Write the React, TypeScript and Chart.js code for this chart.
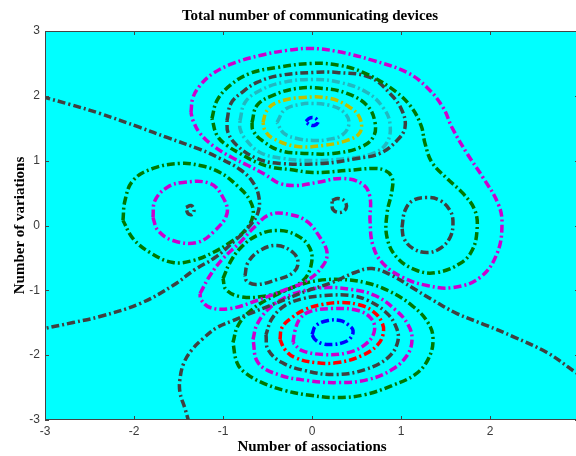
import React, { useEffect, useRef } from 'react';
import { Chart, registerables } from 'chart.js';

Chart.register(...registerables);

// ---------- text ----------
const TITLE = 'Total number of communicating devices';
const X_LABEL = 'Number of associations';
const Y_LABEL = 'Number of variations';

// ---------- axes ----------
const X_MIN = -3;
const X_MAX = 3;
const Y_MIN = -3;
const Y_MAX = 3;
const TICK_STEP = 1;
const HIDDEN_X_TICKS = [3];

type Pt = [number, number];

// ---------- contour lines, data coordinates [x, y] ----------
const zeroWest: Pt[] = [[-3.03, 1.985], [-2.719, 1.867], [-2.382, 1.728], [-1.933, 1.512], [-1.629, 1.358], [-1.258, 1.173], [-1.034, 1.034], [-0.809, 0.864], [-0.663, 0.664], [-0.596, 0.432], [-0.607, 0.201], [-0.697, 0.0], [-0.865, -0.231], [-1.09, -0.494], [-1.315, -0.679], [-1.562, -0.926], [-1.933, -1.204], [-2.382, -1.404], [-2.685, -1.497], [-3.03, -1.595]];

const zeroSouth: Pt[] = [[-1.382, -3.04], [-1.427, -2.824], [-1.483, -2.577], [-1.483, -2.361], [-1.438, -2.114], [-1.348, -1.914], [-1.225, -1.744], [-1.067, -1.574], [-0.888, -1.466], [-0.753, -1.389], [-0.528, -1.265], [-0.303, -1.142], [-0.045, -1.003], [0.225, -0.88], [0.483, -0.725], [0.674, -0.664], [0.899, -0.772], [1.124, -0.957], [1.348, -1.142], [1.629, -1.358], [1.966, -1.543], [2.258, -1.713], [2.64, -1.96], [2.966, -2.269], [3.034, -2.33]];

const topCore: Pt[] = [[-0.067, 1.605], [-0.034, 1.651], [0.011, 1.667], [0.056, 1.636], [0.067, 1.59], [0.022, 1.543], [-0.034, 1.559]];
const topRing7: Pt[] = [[-0.393, 1.59], [-0.303, 1.79], [-0.135, 1.867], [0.011, 1.883], [0.202, 1.852], [0.348, 1.759], [0.416, 1.59], [0.348, 1.404], [0.18, 1.327], [0.011, 1.312], [-0.169, 1.343], [-0.315, 1.42]];
const topRing6: Pt[] = [[-0.551, 1.59], [-0.506, 1.775], [-0.393, 1.898], [-0.101, 1.975], [0.202, 1.96], [0.427, 1.821], [0.539, 1.651], [0.539, 1.435], [0.393, 1.312], [0.124, 1.235], [-0.169, 1.219], [-0.438, 1.343], [-0.528, 1.466]];
const topRing5: Pt[] = [[-0.674, 1.59], [-0.618, 1.852], [-0.438, 2.006], [-0.169, 2.114], [0.124, 2.114], [0.393, 2.037], [0.618, 1.852], [0.708, 1.59], [0.685, 1.358], [0.539, 1.204], [0.236, 1.111], [-0.056, 1.111], [-0.36, 1.157], [-0.562, 1.312], [-0.663, 1.466]];
const topRing4: Pt[] = [[-0.809, 1.62], [-0.753, 1.898], [-0.584, 2.083], [-0.326, 2.207], [0.011, 2.253], [0.315, 2.207], [0.618, 2.052], [0.798, 1.821], [0.876, 1.574], [0.843, 1.281], [0.685, 1.111], [0.393, 1.034], [0.011, 1.003], [-0.326, 1.034], [-0.584, 1.127], [-0.753, 1.343], [-0.809, 1.497]];
const topRing3: Pt[] = [[-0.955, 1.62], [-0.91, 1.883], [-0.787, 2.052], [-0.618, 2.207], [-0.36, 2.315], [0.011, 2.361], [0.281, 2.361], [0.652, 2.284], [0.876, 2.037], [1.011, 1.775], [1.045, 1.512], [0.955, 1.312], [0.764, 1.111], [0.506, 1.034], [0.124, 0.957], [-0.36, 0.957], [-0.618, 1.034], [-0.843, 1.235], [-0.944, 1.435]];
const topRing2: Pt[] = [[-1.124, 1.651], [-1.067, 1.929], [-0.921, 2.16], [-0.697, 2.346], [-0.393, 2.438], [0.011, 2.5], [0.315, 2.469], [0.573, 2.361], [0.876, 2.13], [1.101, 1.852], [1.225, 1.543], [1.27, 1.265], [1.348, 0.972], [1.517, 0.725], [1.697, 0.494], [1.831, 0.231], [1.854, -0.077], [1.798, -0.386], [1.663, -0.586], [1.404, -0.725], [1.18, -0.694], [0.955, -0.494], [0.843, -0.185], [0.843, 0.185], [0.899, 0.54], [0.899, 0.741], [0.82, 0.849], [0.685, 0.88], [0.393, 0.849], [0.011, 0.818], [-0.247, 0.864], [-0.438, 0.895], [-0.618, 0.972], [-0.809, 1.111], [-0.955, 1.235], [-1.067, 1.389]];
const topRing1: Pt[] = [[-1.36, 1.744], [-1.337, 1.975], [-1.258, 2.16], [-1.112, 2.346], [-0.888, 2.5], [-0.584, 2.623], [-0.281, 2.701], [-0.022, 2.731], [0.281, 2.685], [0.685, 2.546], [1.067, 2.361], [1.292, 2.13], [1.472, 1.821], [1.573, 1.512], [1.742, 1.111], [1.921, 0.741], [2.09, 0.34], [2.135, 0.031], [2.079, -0.432], [1.888, -0.802], [1.584, -0.957], [1.292, -0.926], [1.022, -0.802], [0.798, -0.586], [0.685, -0.309], [0.652, 0.077], [0.652, 0.432], [0.573, 0.633], [0.348, 0.725], [0.056, 0.664], [-0.169, 0.617], [-0.36, 0.648], [-0.528, 0.787], [-0.719, 0.926], [-0.899, 1.049], [-1.101, 1.219], [-1.258, 1.42], [-1.337, 1.62]];

const rightCore: Pt[] = [[1.011, -0.031], [1.045, 0.231], [1.135, 0.386], [1.292, 0.432], [1.438, 0.386], [1.551, 0.231], [1.584, 0.046], [1.551, -0.185], [1.438, -0.355], [1.292, -0.417], [1.135, -0.355], [1.034, -0.201]];

const leftCore: Pt[] = [[-1.416, 0.278], [-1.36, 0.309], [-1.326, 0.247], [-1.348, 0.17], [-1.393, 0.185]];
const leftRing2: Pt[] = [[-1.787, 0.123], [-1.764, 0.386], [-1.629, 0.586], [-1.449, 0.664], [-1.146, 0.648], [-1.0, 0.432], [-0.955, 0.185], [-1.09, -0.077], [-1.292, -0.262], [-1.562, -0.231], [-1.73, -0.077]];
const leftRing1: Pt[] = [[-2.124, 0.077], [-2.101, 0.386], [-2.011, 0.694], [-1.787, 0.88], [-1.483, 0.957], [-1.258, 0.926], [-1.034, 0.818], [-0.843, 0.617], [-0.697, 0.386], [-0.663, 0.154], [-0.753, -0.077], [-0.921, -0.262], [-1.112, -0.417], [-1.337, -0.54], [-1.562, -0.571], [-1.82, -0.417], [-2.011, -0.201]];

const centreBlob: Pt[] = [[0.225, 0.386], [0.292, 0.417], [0.371, 0.37], [0.382, 0.262], [0.315, 0.201], [0.236, 0.247]];

const midCore: Pt[] = [[-0.753, -0.772], [-0.719, -0.571], [-0.584, -0.386], [-0.393, -0.309], [-0.213, -0.417], [-0.157, -0.586], [-0.225, -0.741], [-0.393, -0.833], [-0.618, -0.91], [-0.73, -0.864]];
const midRing2: Pt[] = [[-1.0, -0.818], [-0.921, -0.571], [-0.809, -0.355], [-0.618, -0.154], [-0.393, -0.077], [-0.169, -0.154], [-0.022, -0.355], [-0.011, -0.617], [-0.101, -0.849], [-0.303, -1.003], [-0.562, -1.096], [-0.809, -1.096], [-0.966, -0.988]];
const midRing1: Pt[] = [[-1.258, -1.049], [-1.146, -0.772], [-1.0, -0.509], [-0.809, -0.262], [-0.663, -0.046], [-0.472, 0.17], [-0.247, 0.17], [-0.056, 0.062], [0.09, -0.185], [0.169, -0.417], [0.124, -0.617], [-0.056, -0.849], [-0.326, -1.003], [-0.618, -1.157], [-0.921, -1.281], [-1.146, -1.265], [-1.247, -1.142]];

const lowCore: Pt[] = [[0.0, -1.682], [0.045, -1.543], [0.18, -1.466], [0.315, -1.466], [0.404, -1.528], [0.461, -1.62], [0.427, -1.744], [0.348, -1.806], [0.225, -1.836], [0.112, -1.821], [0.034, -1.759]];
const lowRing5: Pt[] = [[-0.213, -1.806], [-0.191, -1.62], [-0.135, -1.435], [-0.022, -1.327], [0.225, -1.281], [0.517, -1.312], [0.674, -1.451], [0.697, -1.651], [0.596, -1.836], [0.404, -1.96], [0.146, -1.991], [-0.112, -1.929]];
const lowRing4: Pt[] = [[-0.36, -1.759], [-0.337, -1.574], [-0.225, -1.42], [-0.079, -1.296], [0.112, -1.219], [0.337, -1.188], [0.517, -1.219], [0.674, -1.312], [0.787, -1.497], [0.798, -1.682], [0.73, -1.852], [0.562, -2.006], [0.292, -2.114], [0.034, -2.114], [-0.191, -2.037], [-0.303, -1.914]];
const lowRing3: Pt[] = [[-0.517, -1.682], [-0.494, -1.914], [-0.337, -2.114], [-0.079, -2.238], [0.258, -2.299], [0.596, -2.222], [0.854, -2.037], [0.966, -1.775], [0.933, -1.528], [0.82, -1.327], [0.629, -1.157], [0.427, -1.08], [0.146, -1.08], [-0.101, -1.127], [-0.303, -1.235], [-0.449, -1.435]];
const lowRing2: Pt[] = [[-0.663, -1.759], [-0.618, -1.528], [-0.494, -1.296], [-0.303, -1.111], [-0.079, -1.003], [0.18, -0.957], [0.449, -0.988], [0.708, -1.08], [0.933, -1.296], [1.079, -1.528], [1.124, -1.759], [1.067, -2.006], [0.899, -2.222], [0.629, -2.377], [0.292, -2.423], [-0.045, -2.392], [-0.382, -2.299], [-0.607, -2.114]];
const lowRing1: Pt[] = [[-0.888, -1.806], [-0.831, -1.543], [-0.674, -1.296], [-0.416, -1.08], [-0.157, -0.926], [0.067, -0.849], [0.337, -0.833], [0.596, -0.88], [0.854, -1.003], [1.124, -1.235], [1.303, -1.497], [1.36, -1.759], [1.303, -2.068], [1.157, -2.299], [0.899, -2.469], [0.596, -2.608], [0.292, -2.654], [0.0, -2.623], [-0.303, -2.546], [-0.562, -2.423], [-0.753, -2.269], [-0.843, -2.114]];

// ---------- which lines are open (the rest are closed loops) ----------
const OPEN_LINES = ['zeroWest', 'zeroSouth'];

// ---------- styles ----------
const COL = {
  grey: '#404040',
  green: '#007800',
  magenta: '#cc00cc',
  teal: '#22b8c0',
  yellow: '#c0c000',
  blue: '#0000ff',
  red: '#ff0000',
};

const LINES: { name: string; pts: Pt[]; colour: string }[] = [
  { name: 'zeroWest', pts: zeroWest, colour: COL.grey },
  { name: 'zeroSouth', pts: zeroSouth, colour: COL.grey },
  { name: 'topRing1', pts: topRing1, colour: COL.magenta },
  { name: 'topRing2', pts: topRing2, colour: COL.green },
  { name: 'topRing3', pts: topRing3, colour: COL.grey },
  { name: 'topRing4', pts: topRing4, colour: COL.teal },
  { name: 'topRing5', pts: topRing5, colour: COL.green },
  { name: 'topRing6', pts: topRing6, colour: COL.yellow },
  { name: 'topRing7', pts: topRing7, colour: COL.teal },
  { name: 'topCore', pts: topCore, colour: COL.blue },
  { name: 'rightCore', pts: rightCore, colour: COL.grey },
  { name: 'leftRing1', pts: leftRing1, colour: COL.green },
  { name: 'leftRing2', pts: leftRing2, colour: COL.magenta },
  { name: 'leftCore', pts: leftCore, colour: COL.grey },
  { name: 'centreBlob', pts: centreBlob, colour: COL.grey },
  { name: 'midRing1', pts: midRing1, colour: COL.magenta },
  { name: 'midRing2', pts: midRing2, colour: COL.green },
  { name: 'midCore', pts: midCore, colour: COL.grey },
  { name: 'lowRing1', pts: lowRing1, colour: COL.green },
  { name: 'lowRing2', pts: lowRing2, colour: COL.magenta },
  { name: 'lowRing3', pts: lowRing3, colour: COL.grey },
  { name: 'lowRing4', pts: lowRing4, colour: COL.red },
  { name: 'lowRing5', pts: lowRing5, colour: COL.magenta },
  { name: 'lowCore', pts: lowCore, colour: COL.blue },
];

const TICK_FONT = { family: '"Liberation Sans", Arial, sans-serif', size: 12 };
const LABEL_FONT = { family: '"Liberation Serif", "Times New Roman", serif', size: 15, weight: 'bold' as const };

const framePlugin = {
  id: 'frame',
  beforeDraw(chart: any) {
    const { ctx, chartArea: a, width, height } = chart;
    ctx.save();
    ctx.fillStyle = '#ffffff';
    ctx.fillRect(0, 0, width, height);
    ctx.fillStyle = '#00ffff';
    ctx.fillRect(a.left, a.top, a.right - a.left, a.bottom - a.top);
    ctx.restore();
  },
  afterDraw(chart: any) {
    const { ctx, chartArea: a, scales } = chart;
    ctx.save();
    ctx.strokeStyle = '#444444';
    ctx.lineWidth = 1;
    ctx.setLineDash([]);
    ctx.strokeRect(a.left + 0.5, a.top + 0.5, a.right - a.left - 1, a.bottom - a.top - 1);
    ctx.beginPath();
    for (const t of scales.x.ticks) {
      const p = Math.round(scales.x.getPixelForValue(t.value)) + 0.5;
      ctx.moveTo(p, a.top);
      ctx.lineTo(p, a.top + 4);
      ctx.moveTo(p, a.bottom);
      ctx.lineTo(p, a.bottom - 4);
    }
    for (const t of scales.y.ticks) {
      const p = Math.round(scales.y.getPixelForValue(t.value)) + 0.5;
      ctx.moveTo(a.left, p);
      ctx.lineTo(a.left + 4, p);
      ctx.moveTo(a.right, p);
      ctx.lineTo(a.right - 4, p);
    }
    ctx.stroke();
    ctx.fillStyle = '#000000';
    ctx.font = 'bold 15px "Liberation Serif", "Times New Roman", serif';
    ctx.textAlign = 'center';
    ctx.textBaseline = 'middle';
    ctx.fillText(TITLE, (a.left + a.right) / 2 - 2, 16);
    ctx.restore();
  },
};

export default function App() {
  const ref = useRef<HTMLCanvasElement | null>(null);

  useEffect(() => {
    if (!ref.current) return;
    const datasets = LINES.map((l) => {
      const pts = OPEN_LINES.includes(l.name) ? l.pts : [...l.pts, l.pts[0]];
      return {
        label: l.name,
        data: pts.map(([x, y]) => ({ x, y })),
        showLine: true,
        borderColor: l.colour,
        backgroundColor: l.colour,
        borderWidth: 3.5,
        borderDash: [8, 3, 2, 3],
        borderCapStyle: 'butt' as const,
        borderJoinStyle: 'round' as const,
        pointRadius: 0,
        pointHoverRadius: 0,
        tension: 0.4,
        fill: false,
      };
    });
    const chart = new Chart(ref.current, {
      type: 'scatter',
      data: { datasets },
      options: {
        animation: false,
        responsive: false,
        devicePixelRatio: 1,
        layout: { padding: { left: 0, top: 31, right: 21, bottom: 0 } },
        plugins: { legend: { display: false }, tooltip: { enabled: false }, title: { display: false } },
        scales: {
          x: {
            type: 'linear',
            min: X_MIN,
            max: X_MAX,
            grid: { display: false, drawTicks: false },
            border: { display: false },
            ticks: {
              stepSize: TICK_STEP,
              padding: 4,
              font: TICK_FONT,
              color: '#3a3a3a',
              callback: (v: any) => (HIDDEN_X_TICKS.includes(Number(v)) ? '' : String(v)),
            },
            title: { display: true, text: X_LABEL, font: LABEL_FONT, color: '#000', padding: { top: 0, bottom: 0 } },
            afterFit: (s: any) => { s.height = 36; },
          },
          y: {
            type: 'linear',
            min: Y_MIN,
            max: Y_MAX,
            grid: { display: false, drawTicks: false },
            border: { display: false },
            ticks: { stepSize: TICK_STEP, padding: 5, font: TICK_FONT, color: '#3a3a3a' },
            title: { display: true, text: Y_LABEL, font: LABEL_FONT, color: '#000', padding: { top: 11, bottom: 0 } },
            afterFit: (s: any) => { s.width = 45; },
          },
        },
      },
      plugins: [framePlugin],
    });
    return () => chart.destroy();
  }, []);

  return (
    <div style={{ position: 'fixed', left: 0, top: 0, width: 576, height: 456, overflow: 'hidden', background: '#fff' }}>
      <canvas ref={ref} width={600} height={456} style={{ display: 'block', width: 600, height: 456 }} />
    </div>
  );
}
